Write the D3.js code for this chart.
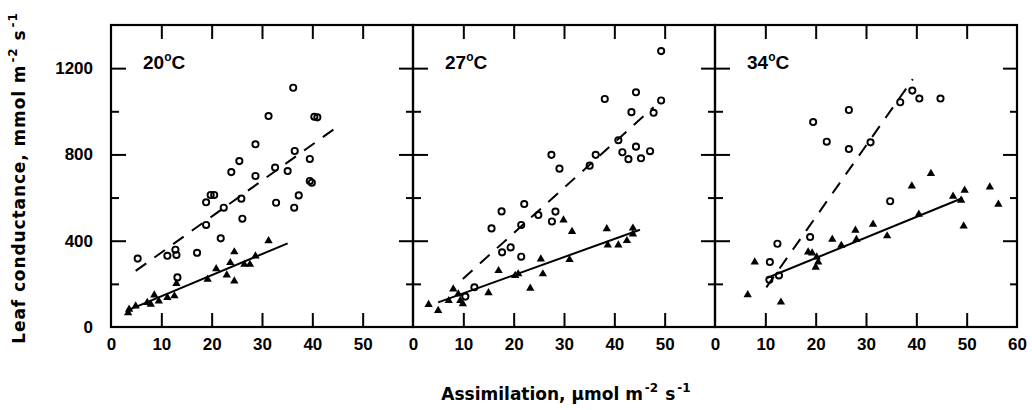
<!DOCTYPE html>
<html><head><meta charset="utf-8">
<script src="https://cdn.jsdelivr.net/npm/d3@7/dist/d3.min.js"></script>
<style>
html,body{margin:0;padding:0;background:#fff;}
svg{display:block;}
text{font-family:"Liberation Sans",Arial,sans-serif;font-weight:bold;fill:#000;}
.title{font-family:"DejaVu Sans","Liberation Sans",sans-serif;font-weight:bold;}
</style>
</head><body>
<svg id="chart" width="1032" height="410"></svg>
<script>
// ---- data ----
const panelLabels = ["20", "27", "34"];
const xTickLabels = [[0,10,20,30,40,50],[0,10,20,30,40,50],[0,10,20,30,40,50,60]];
const yTickLabels = [0, 400, 800, 1200];
const yMajorTicks = [400, 800, 1200];
const yMinorTicks = [200, 600, 1000];
const xInnerTicks = [10, 20, 30, 40, 50];

// open circles (dashed regression)
const open20 = [[5.3,317],[11.2,330],[13.0,334],[12.8,358],[13.2,230],[17.1,344],[18.9,473],[18.9,578],[19.8,612],[20.5,612],[21.8,411],[22.4,553],[23.9,718],[25.5,769],[25.9,595],[26.1,502],[28.7,847],[28.7,700],[31.3,978],[32.6,739],[32.8,576],[35.1,723],[36.2,1109],[36.5,816],[36.4,553],[37.3,610],[39.5,779],[39.5,677],[39.9,669],[40.4,975],[41.0,972]];
const open27 = [[10.4,141],[12.2,184],[15.6,457],[17.6,536],[17.7,346],[19.4,369],[21.5,473],[21.5,326],[22.1,570],[24.9,519],[27.5,798],[27.6,489],[28.3,535],[29.1,734],[35.1,748],[36.3,798],[38.1,1057],[40.8,866],[41.6,810],[42.8,778],[43.4,996],[44.3,836],[44.3,1088],[45.3,782],[47.1,815],[47.8,993],[49.3,1050],[49.3,1279]];
const open34 = [[10.8,219],[12.7,239],[10.9,301],[12.4,386],[18.9,417],[19.5,950],[22.2,859],[26.6,1006],[26.6,825],[30.9,856],[34.8,583],[36.8,1042],[39.2,1096],[40.6,1059],[44.8,1059]];

// filled triangles (solid regression)
const tri20 = [[3.4,66],[3.6,82],[4.9,97],[7.2,113],[7.9,105],[8.6,148],[9.5,120],[11.2,136],[12.6,144],[13.0,201],[19.2,221],[20.9,270],[23.0,241],[23.7,298],[24.5,348],[24.5,213],[26.5,290],[27.6,290],[28.7,329],[31.3,399]];
const tri27 = [[3.1,104],[5.0,76],[7.1,122],[8.0,176],[9.0,153],[9.4,122],[9.9,107],[15.0,158],[17.0,261],[20.3,238],[20.9,246],[23.3,179],[25.4,315],[25.8,246],[29.9,496],[31.1,312],[31.6,442],[38.5,455],[38.7,380],[40.8,380],[42.5,400],[43.7,458],[43.7,431]];
const tri34 = [[6.5,149],[7.9,301],[13.1,115],[18.5,347],[19.3,343],[20.2,324],[20.5,301],[20.0,277],[23.3,406],[25.1,378],[27.9,448],[28.1,405],[31.4,476],[34.2,422],[39.1,653],[40.5,522],[42.9,711],[47.3,606],[48.9,587],[49.4,468],[49.6,634],[54.6,649],[56.3,569]];

// regression line end points
const dash20 = [[4.9,260],[44.9,927]];
const dash27 = [[9.9,223],[47.8,1019]];
const dash34 = [[10.2,184],[39.3,1149]];
const solid20 = [[3.3,77],[35.1,388]];
const solid27 = [[5.0,114],[45.1,451]];
const solid34 = [[10.2,226],[49.2,598]];

const openSets = [open20, open27, open34];
const triSets = [tri20, tri27, tri34];
const dashSets = [dash20, dash27, dash34];
const solidSets = [solid20, solid27, solid34];

(function draw() {
  const svg = d3.select("#chart");
  const mLeft = 111, mTop = 25, mBottom = 327, pw = 302;
  const y = d3.scaleLinear().domain([0, 1400]).range([mBottom, mTop]);
  const line = (x) => d3.line().x(d => x(d[0])).y(d => y(d[1]));
  const styleTicks = sel => {
    sel.select(".domain").remove();
    sel.selectAll("line").attr("stroke", "#000").attr("stroke-width", 2);
    sel.selectAll("text").remove();
  };
  const styleLabels = sel => {
    sel.select(".domain").remove();
    sel.selectAll("text").attr("font-size", 17).attr("font-family", "Liberation Sans, Arial, sans-serif")
      .attr("font-weight", "bold").attr("fill", "#000");
  };

  panelLabels.forEach((lab, i) => {
    const x0 = mLeft + i * pw;
    const x = d3.scaleLinear().domain([0, 60]).range([x0, x0 + pw]);
    const g = svg.append("g");

    g.append("g").attr("transform", `translate(0,${mBottom})`).call(d3.axisBottom(x).tickValues(xInnerTicks).tickSize(-14)).call(styleTicks);
    g.append("g").attr("transform", `translate(0,${mTop})`).call(d3.axisTop(x).tickValues(xInnerTicks).tickSize(-14)).call(styleTicks);
    g.append("g").attr("transform", `translate(${x0},0)`).call(d3.axisLeft(y).tickValues(yMajorTicks).tickSize(-15)).call(styleTicks);
    g.append("g").attr("transform", `translate(${x0},0)`).call(d3.axisLeft(y).tickValues(yMinorTicks).tickSize(-8)).call(styleTicks);
    g.append("g").attr("transform", `translate(${x0 + pw},0)`).call(d3.axisRight(y).tickValues(yMajorTicks).tickSize(-14)).call(styleTicks);
    g.append("g").attr("transform", `translate(${x0 + pw},0)`).call(d3.axisRight(y).tickValues(yMinorTicks).tickSize(-7)).call(styleTicks);

    g.append("g").attr("transform", `translate(0,${mBottom})`)
      .call(d3.axisBottom(x).tickValues(xTickLabels[i]).tickSize(0).tickPadding(11).tickFormat(d3.format("d")))
      .call(styleLabels);

    g.append("rect").attr("x", x0).attr("y", mTop).attr("width", pw).attr("height", mBottom - mTop)
      .attr("fill", "none").attr("stroke", "#000").attr("stroke-width", 2.2);

    g.append("path").datum(dashSets[i]).attr("d", line(x)).attr("fill", "none").attr("stroke", "#000")
      .attr("stroke-width", 2).attr("stroke-dasharray", "13,10");
    g.append("path").datum(solidSets[i]).attr("d", line(x)).attr("fill", "none").attr("stroke", "#000")
      .attr("stroke-width", 2);

    g.selectAll(".oc").data(openSets[i]).join("circle").attr("class", "oc")
      .attr("cx", d => x(d[0])).attr("cy", d => y(d[1])).attr("r", 3.1)
      .attr("fill", "none").attr("stroke", "#000").attr("stroke-width", 1.9);

    const tri = d3.symbol().type(d3.symbolTriangle).size(30);
    g.selectAll(".tr").data(triSets[i]).join("path").attr("class", "tr")
      .attr("transform", d => `translate(${x(d[0])},${y(d[1])})`).attr("d", tri).attr("fill", "#000");

    const t = g.append("text").attr("x", x0 + 32).attr("y", 69).attr("font-size", 19);
    t.append("tspan").text(lab);
    t.append("tspan").attr("font-size", 12).attr("dy", -8).text("o");
    t.append("tspan").attr("dy", 8).text("C");
  });

  svg.append("g").attr("transform", `translate(${mLeft},0)`)
    .call(d3.axisLeft(y).tickValues(yTickLabels).tickSize(0).tickPadding(18).tickFormat(d3.format("d")))
    .call(styleLabels);

  const addUnits = (t) => {
    t.append("tspan").attr("font-size", 12).attr("dy", -8).attr("dx", 2).text("-2");
    t.append("tspan").attr("dy", 8).attr("dx", 7).text("s");
    t.append("tspan").attr("font-size", 12).attr("dy", -8).attr("dx", 2).text("-1");
  };

  const xt = svg.append("text").attr("class", "title").attr("x", 566).attr("y", 400).attr("text-anchor", "middle").attr("font-size", 17);
  xt.append("tspan").text("Assimilation, \u03bcmol m");
  addUnits(xt);

  const yt = svg.append("text").attr("class", "title").attr("transform", "translate(25,178) rotate(-90)").attr("text-anchor", "middle").attr("font-size", 17).attr("letter-spacing", 0.9);
  yt.append("tspan").text("Leaf conductance, mmol m");
  addUnits(yt);
})();
</script>
</body></html>
